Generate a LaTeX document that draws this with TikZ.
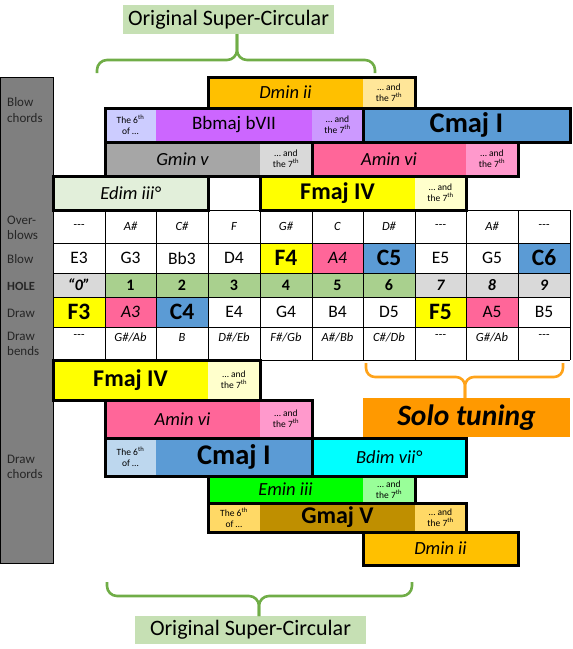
\documentclass[tikz,border=0pt]{standalone}
\usepackage{fontspec}
\setmainfont{Carlito}
\definecolor{cDmin}{HTML}{FFC000}\definecolor{cDminL}{HTML}{FFE699}
\definecolor{cBbL}{HTML}{CCCCFF}\definecolor{cBb}{HTML}{CC66FF}\definecolor{cBbS}{HTML}{CC99FF}
\definecolor{cC}{HTML}{5B9BD5}\definecolor{cCL}{HTML}{BDD7EE}
\definecolor{cGm}{HTML}{A6A6A6}\definecolor{cGmL}{HTML}{D9D9D9}
\definecolor{cAm}{HTML}{FF6699}\definecolor{cAmL}{HTML}{FF99CC}
\definecolor{cEd}{HTML}{E2EFDA}
\definecolor{cF}{HTML}{FFFF00}\definecolor{cFL}{HTML}{FFFFCC}
\definecolor{cBd}{HTML}{00FFFF}
\definecolor{cEm}{HTML}{00FF00}\definecolor{cEmL}{HTML}{99FF99}
\definecolor{cG}{HTML}{BF8F00}\definecolor{cGL}{HTML}{FFD966}
\definecolor{cSolo}{HTML}{FF9900}\definecolor{cSoloB}{HTML}{FFA31A}
\definecolor{cGreen}{HTML}{70AD47}\definecolor{cOrig}{HTML}{C6E0B4}
\definecolor{cHoleG}{HTML}{A9D08E}\definecolor{cGray}{HTML}{D9D9D9}
\definecolor{cSide}{HTML}{7F7F7F}\definecolor{cLab}{HTML}{262626}
\newcommand\seg[8]{\node[seg,fill=#6,minimum width={#4pt-#2pt},minimum height={#5pt-#3pt},#7] (#1) at ({(#2+#4)/2},{(#3+#5)/2}) {#8};}
\newcommand\andsev{… and\\the 7\textsuperscript{th}}
\newcommand\sixof{The 6\textsuperscript{th}\\of …}
\newcommand\tdash{{-}{-}{-}}
\begin{document}
\begin{tikzpicture}[x=1pt,y=-1pt,
  seg/.style={inner sep=0pt,outer sep=0pt,align=center,text=black},
  cb/.style={line width=3pt,draw=black},
  ital/.style={font=\fontsize{18.5}{22}\selectfont\itshape},
  reg/.style={font=\fontsize{19}{22}\selectfont},
  bigC/.style={font=\fontsize{28.5}{32}\selectfont\bfseries},
  bigF/.style={font=\fontsize{24}{27}\selectfont\bfseries},
  small/.style={font=\fontsize{9.5}{11}\selectfont},
  solo/.style={font=\fontsize{29.5}{33}\selectfont\bfseries\itshape},
  orig/.style={font=\fontsize{22}{25}\selectfont},
  lab/.style={font=\fontsize{13}{15.5}\selectfont,text=cLab,anchor=west,align=left,inner sep=0pt},
  labb/.style={font=\fontsize{12.5}{15}\selectfont\bfseries,text=cLab,anchor=west,inner sep=0pt},
  ob/.style={font=\fontsize{12.5}{15}\selectfont\itshape},
  nt/.style={font=\fontsize{17.5}{20}\selectfont},
  nti/.style={font=\fontsize{17.5}{20}\selectfont\itshape},
  ntb/.style={font=\fontsize{23.5}{27}\selectfont\bfseries},
  hl/.style={font=\fontsize{16}{19}\selectfont\bfseries},
  hli/.style={font=\fontsize{16}{19}\selectfont\bfseries\itshape},
  gbrace/.style={draw=cGreen,line width=2.6pt,rounded corners=10pt},
  obrace/.style={draw=cSoloB,line width=2.6pt,rounded corners=9pt},
  grid/.style={draw=black,line width=0.9pt}]
\useasboundingbox (0,0) rectangle (573,649);
% side bar
\seg{side}{0}{77}{53}{563}{cSide}{draw=black,line width=0.8pt}{}
\node[lab] (l1) at (7,110) {Blow\\chords};
\node[lab] (l2) at (7,228) {Over-\\blows};
\node[lab] (l3) at (7,259) {Blow};
\node[labb] (l4) at (7,286) {HOLE};
\node[lab] (l5) at (7,313) {Draw};
\node[lab] (l6) at (7,344) {Draw\\bends};
\node[lab] (l7) at (7,467) {Draw\\chords};
% blow chords
\seg{dmA}{208}{77}{363}{108}{cDmin}{ital}{Dmin ii}
\seg{dmB}{363}{77}{415}{108}{cDminL}{small}{\andsev}
\seg{bbA}{105}{108}{156}{142}{cBbL}{small}{\sixof}
\seg{bbB}{156}{108}{312}{142}{cBb}{reg}{Bbmaj bVII}
\seg{bbC}{312}{108}{363}{142}{cBbS}{small}{\andsev}
\seg{cmA}{363}{108}{570}{142}{cC}{bigC}{Cmaj I}
\seg{gmA}{105}{142}{260}{176}{cGm}{ital}{Gmin v}
\seg{gmB}{260}{142}{312}{176}{cGmL}{small}{\andsev}
\seg{amA}{312}{142}{466}{176}{cAm}{ital}{Amin vi}
\seg{amB}{466}{142}{518}{176}{cAmL}{small}{\andsev}
\seg{edA}{53}{176}{208}{210}{cEd}{ital}{Edim iii°}
\seg{fmA}{260}{176}{415}{210}{cF}{bigF}{Fmaj IV}
\seg{fmB}{415}{176}{466}{210}{cFL}{small}{\andsev}
% draw chords
\seg{dfA}{53}{360}{208}{400}{cF}{bigF}{Fmaj IV}
\seg{dfB}{208}{360}{260}{400}{cFL}{small}{\andsev}
\seg{daA}{105}{400}{260}{438}{cAm}{ital}{Amin vi}
\seg{daB}{260}{400}{312}{438}{cAmL}{small}{\andsev}
\seg{dcA}{105}{438}{156}{476}{cCL}{small}{\sixof}
\seg{dcB}{156}{438}{312}{476}{cC}{bigC}{Cmaj I}
\seg{dbd}{312}{438}{466}{476}{cBd}{ital}{Bdim vii°}
\seg{deA}{208}{476}{363}{503}{cEm}{ital}{Emin iii}
\seg{deB}{363}{476}{415}{503}{cEmL}{small}{\andsev}
\seg{dgA}{208}{503}{260}{532}{cGL}{small}{\sixof}
\seg{dgB}{260}{503}{415}{532}{cG}{bigF}{Gmaj V}
\seg{dgC}{415}{503}{466}{532}{cGL}{small}{\andsev}
\seg{ddA}{363}{532}{518}{565}{cDmin}{ital}{Dmin ii}
% table
\seg{o0}{53}{210}{105}{243}{white}{ob}{\tdash}
\seg{o1}{105}{210}{156}{243}{white}{ob}{A\#}
\seg{o2}{156}{210}{208}{243}{white}{ob}{C\#}
\seg{o3}{208}{210}{260}{243}{white}{ob}{F}
\seg{o4}{260}{210}{312}{243}{white}{ob}{G\#}
\seg{o5}{312}{210}{363}{243}{white}{ob}{C}
\seg{o6}{363}{210}{415}{243}{white}{ob}{D\#}
\seg{o7}{415}{210}{466}{243}{white}{ob}{\tdash}
\seg{o8}{466}{210}{518}{243}{white}{ob}{A\#}
\seg{o9}{518}{210}{570}{243}{white}{ob}{\tdash}
\seg{b0}{53}{243}{105}{273}{white}{nt}{E3}
\seg{b1}{105}{243}{156}{273}{white}{nt}{G3}
\seg{b2}{156}{243}{208}{273}{white}{nt}{Bb3}
\seg{b3}{208}{243}{260}{273}{white}{nt}{D4}
\seg{b4}{260}{243}{312}{273}{cF}{ntb}{F4}
\seg{b5}{312}{243}{363}{273}{cAm}{nti}{A4}
\seg{b6}{363}{243}{415}{273}{cC}{ntb}{C5}
\seg{b7}{415}{243}{466}{273}{white}{nt}{E5}
\seg{b8}{466}{243}{518}{273}{white}{nt}{G5}
\seg{b9}{518}{243}{570}{273}{cC}{ntb}{C6}
\seg{h0}{53}{273}{105}{297}{cGray}{hli}{“0”}
\seg{h1}{105}{273}{156}{297}{cHoleG}{hl}{1}
\seg{h2}{156}{273}{208}{297}{cHoleG}{hl}{2}
\seg{h3}{208}{273}{260}{297}{cHoleG}{hl}{3}
\seg{h4}{260}{273}{312}{297}{cHoleG}{hl}{4}
\seg{h5}{312}{273}{363}{297}{cHoleG}{hl}{5}
\seg{h6}{363}{273}{415}{297}{cHoleG}{hl}{6}
\seg{h7}{415}{273}{466}{297}{cGray}{hli}{7}
\seg{h8}{466}{273}{518}{297}{cGray}{hli}{8}
\seg{h9}{518}{273}{570}{297}{cGray}{hli}{9}
\seg{d0}{53}{297}{105}{327}{cF}{ntb}{F3}
\seg{d1}{105}{297}{156}{327}{cAm}{nti}{A3}
\seg{d2}{156}{297}{208}{327}{cC}{ntb}{C4}
\seg{d3}{208}{297}{260}{327}{white}{nt}{E4}
\seg{d4}{260}{297}{312}{327}{white}{nt}{G4}
\seg{d5}{312}{297}{363}{327}{white}{nt}{B4}
\seg{d6}{363}{297}{415}{327}{white}{nt}{D5}
\seg{d7}{415}{297}{466}{327}{cF}{ntb}{F5}
\seg{d8}{466}{297}{518}{327}{cAm}{nt}{A5}
\seg{d9}{518}{297}{570}{327}{white}{nt}{B5}
\node[ob] (e0) at (79,337) {\tdash};
\node[ob] (e1) at (130.5,337) {G\#/Ab};
\node[ob] (e2) at (182,337) {B};
\node[ob] (e3) at (234,337) {D\#/Eb};
\node[ob] (e4) at (286,337) {F\#/Gb};
\node[ob] (e5) at (337.5,337) {A\#/Bb};
\node[ob] (e6) at (389,337) {C\#/Db};
\node[ob] (e7) at (440.5,337) {\tdash};
\node[ob] (e8) at (492,337) {G\#/Ab};
\node[ob] (e9) at (544,337) {\tdash};
% grid
\foreach \xx in {53,105,156,208,260,312,363,415,466,518,570}
  \draw[grid] (\xx,210) -- (\xx,360);
\foreach \yy in {210,243,273,297,327,360}
  \draw[grid] (53,\yy) -- (570,\yy);
% chord borders
\draw[cb] (dmA.north west) rectangle (dmB.south east);
\draw[cb] (bbA.north west) rectangle (bbC.south east);
\draw[cb] (cmA.north west) rectangle (cmA.south east);
\draw[cb] (gmA.north west) rectangle (gmB.south east);
\draw[cb] (amA.north west) rectangle (amB.south east);
\draw[cb] (edA.north west) rectangle (edA.south east);
\draw[cb] (fmA.north west) rectangle (fmB.south east);
\draw[cb] (dfA.north west) rectangle (dfB.south east);
\draw[cb] (daA.north west) rectangle (daB.south east);
\draw[cb] (dcA.north west) rectangle (dcB.south east);
\draw[cb] (dbd.north west) rectangle (dbd.south east);
\draw[cb] (deA.north west) rectangle (deB.south east);
\draw[cb] (dgA.north west) rectangle (dgC.south east);
\draw[cb] (ddA.north west) rectangle (ddA.south east);
% solo tuning
\seg{solo}{363}{398}{570}{437}{cSolo}{solo}{Solo tuning}
\coordinate (soL) at (366,363);
\coordinate (soR) at (563,363);
\coordinate (soM) at (465,377);
\draw[obrace] (soL) |- (soM) -- (soM |- solo.north);
\draw[obrace] (soR) |- (soM) -- (soM |- solo.north);
% original super-circular labels
\seg{otop}{123}{5}{334}{34}{cOrig}{orig}{Original Super-Circular}
\seg{obot}{135}{616}{366}{644}{cOrig}{orig}{Original Super-Circular}
\coordinate (tL) at (97,73);
\coordinate (tR) at (375,73);
\coordinate (tM) at (237,60);
\draw[gbrace] (tL) |- (tM) -- (tM |- otop.south);
\draw[gbrace] (tR) |- (tM) -- (tM |- otop.south);
\coordinate (bL) at (107,582);
\coordinate (bR) at (412,582);
\coordinate (bM) at (259,596);
\draw[gbrace] (bL) |- (bM) -- (bM |- obot.north);
\draw[gbrace] (bR) |- (bM) -- (bM |- obot.north);
\end{tikzpicture}
\end{document}
